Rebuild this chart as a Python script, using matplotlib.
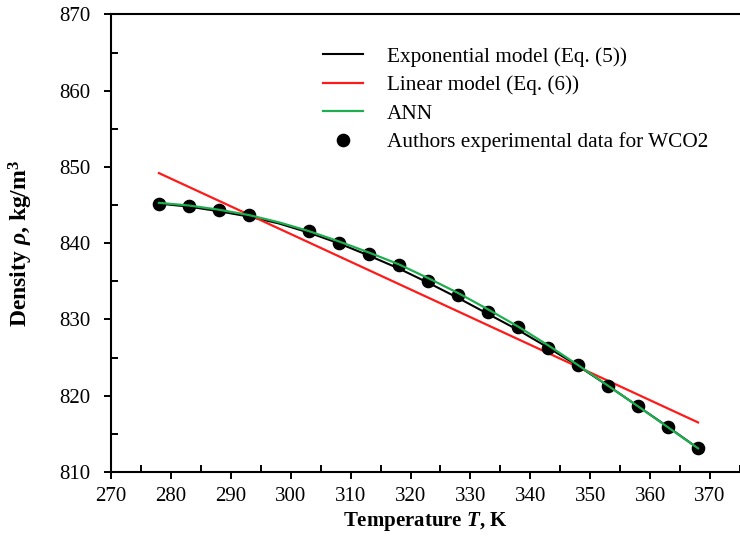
import matplotlib
matplotlib.use("Agg")
import matplotlib.pyplot as plt
from matplotlib.ticker import MultipleLocator
from matplotlib.lines import Line2D

plt.rcParams['font.family'] = ['Liberation Serif', 'DejaVu Serif']
plt.rcParams['mathtext.fontset'] = 'custom'
plt.rcParams['mathtext.rm'] = 'Liberation Serif:bold'
plt.rcParams['mathtext.it'] = 'Liberation Serif:bold:italic'
plt.rcParams['mathtext.bf'] = 'Liberation Serif:bold'

# Experimental data
T_exp = [278, 283, 288, 293, 303, 308, 313, 318, 323, 328, 333, 338, 343, 348, 353, 358, 363, 368]
rho_exp = [845.15, 844.9, 844.3, 843.65, 841.55, 840.0, 838.6, 837.2, 835.05, 833.25, 831.0, 829.0,
           826.3, 824.0, 821.3, 818.7, 815.9, 813.2]

# Exponential model (Eq. 5)
T_expo = [278, 283, 288, 293, 298, 303, 308, 313, 318, 323, 328, 333, 338, 343, 348, 353, 358, 363, 368]
rho_expo = [845.2, 844.8, 844.2, 843.5, 842.6, 841.4, 840.0, 838.4, 836.7, 834.8, 832.8, 830.7, 828.6,
            826.3, 823.9, 821.3, 818.6, 815.9, 813.1]

# Linear model (Eq. 6)
T_lin = [278, 368]
rho_lin = [849.2, 816.5]

# ANN
T_ann = [278, 283, 288, 293, 298, 303, 308, 313, 318, 323, 328, 333, 338, 343, 348, 353, 358, 363, 368]
rho_ann = [845.3, 844.95, 844.4, 843.7, 842.75, 841.6, 840.25, 838.8, 837.25, 835.4, 833.45, 831.3, 829.05,
           826.6, 824.0, 821.3, 818.6, 815.85, 813.1]

fig = plt.figure(figsize=(7.4, 5.53), dpi=100)
ax = fig.add_axes([0.15, 0.1465, 0.85, 0.8273])

ax.plot(T_expo, rho_expo, color='black', lw=1.5, zorder=2)
ax.plot(T_lin, rho_lin, color='#ff1a1a', lw=1.6, zorder=2)
ax.plot(T_exp, rho_exp, 'o', color='black', ms=8.8, zorder=3)
ax.plot(T_ann, rho_ann, color='#1fae4f', lw=1.6, zorder=4)

ax.set_xlim(270, 375)
ax.set_ylim(810, 870)
ax.xaxis.set_major_locator(MultipleLocator(10))
ax.xaxis.set_minor_locator(MultipleLocator(5))
ax.yaxis.set_major_locator(MultipleLocator(10))
ax.yaxis.set_minor_locator(MultipleLocator(5))

ax.spines['right'].set_visible(False)
for s in ['left', 'bottom', 'top']:
    ax.spines[s].set_linewidth(1.5)

ax.tick_params(which='major', direction='out', length=5, width=1.4, labelsize=15)
ax.tick_params(axis='x', which='major', pad=6)
ax.tick_params(axis='y', which='major', pad=10)
ax.tick_params(which='minor', direction='in', length=5, width=1.4)
ax.tick_params(axis='x', which='both', top=False)
ax.tick_params(axis='y', which='both', right=False)

ax.set_xlabel(r'Temperature $T$, K', fontsize=15, fontweight='bold', va='center')
ax.xaxis.set_label_coords(0.5, -0.108)
ax.set_ylabel(r'Density $\rho$, kg/m$^3$', fontsize=17, fontweight='bold', va='center')
ax.yaxis.set_label_coords(-0.1425, 0.5)

handles = [
    Line2D([], [], color='black', lw=1.5),
    Line2D([], [], color='#ff1a1a', lw=1.6),
    Line2D([], [], color='#1fae4f', lw=1.6),
    Line2D([], [], color='black', marker='o', ls='none', ms=8.8),
]
labels = ['Exponential model (Eq. (5))', 'Linear model (Eq. (6))', 'ANN',
          'Authors experimental data for WCO2']
ax.legend(handles, labels, loc='upper left', bbox_to_anchor=(0.337, 0.929), frameon=False,
          fontsize=15.3, handlelength=1.9, handletextpad=1.1, labelspacing=0.4,
          borderpad=0, borderaxespad=0)

fig.savefig('out.png', dpi=100)
